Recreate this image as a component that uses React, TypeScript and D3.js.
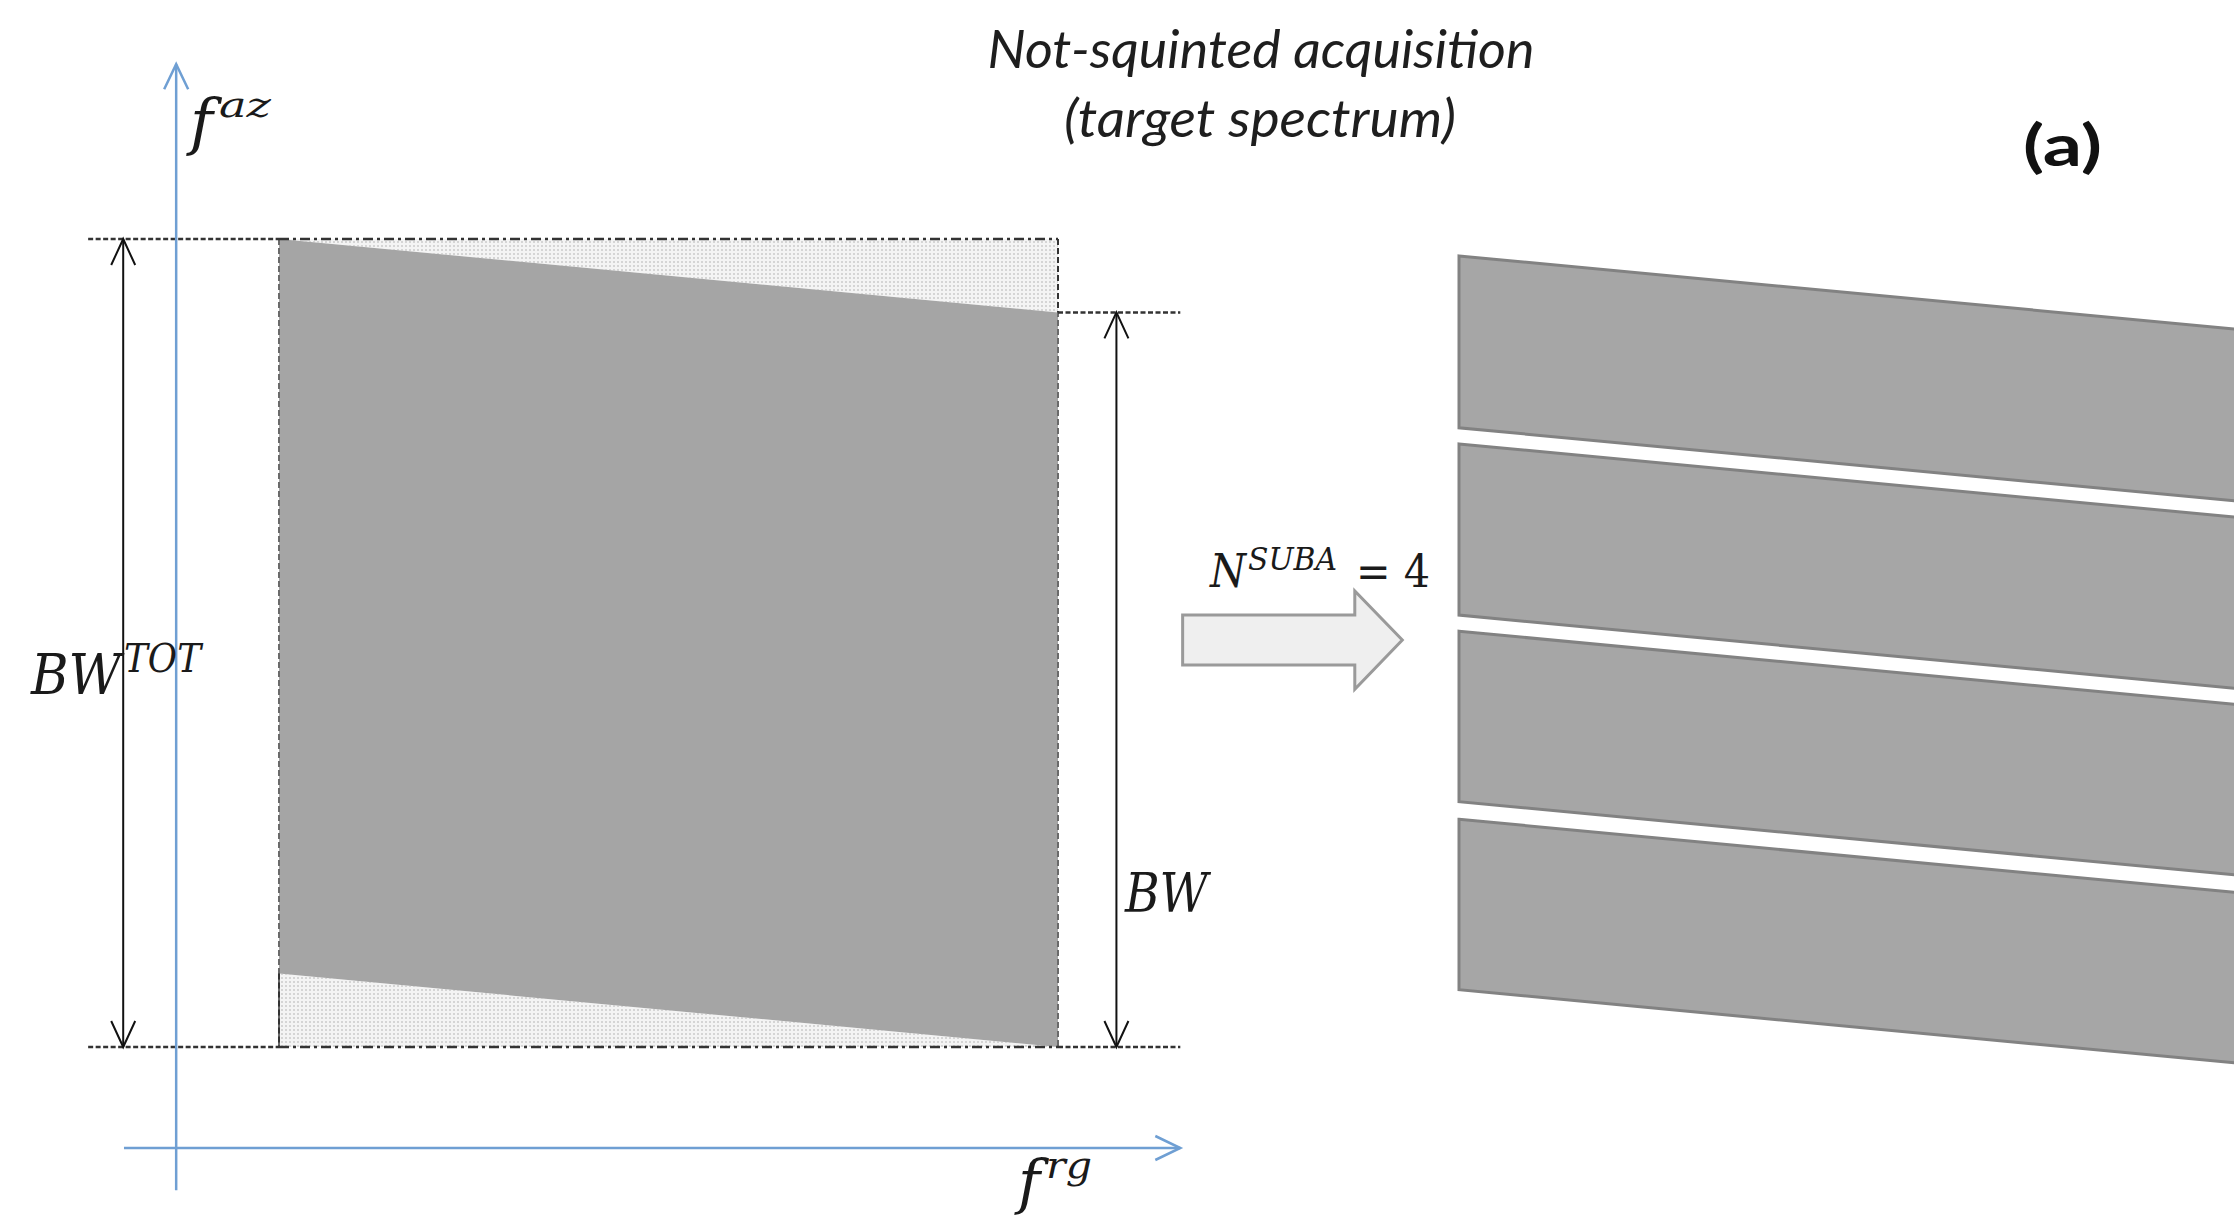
import React from 'react';
import * as d3 from 'd3';

const W = 2234;
const H = 1218;

// spectrum support in normalised (range, azimuth) frequency units
const spectrumFrg = [0, 1];
const spectrumTopFaz = [1.1, 1.0];
const spectrumBottomFaz = [0.1, 0.0];
const bwTotFaz = [0, 1.1];
const bwFaz = [0, 1.0];

// sub-apertures (N = 4), azimuth edges at the near-range side
const subaTop = [1.077, 0.821, 0.566, 0.31];
const subaBottom = [0.843, 0.588, 0.334, 0.078];
const squint = 0.1;

// axes and guides
const azAxisFrg = -0.132;
const azAxisFaz = [-0.195, 1.338];
const rgAxisFaz = -0.1375;
const rgAxisFrg = [-0.199, 1.157];
const guideFrg = [-0.245, 1.157];
const bwTotArrowFrg = -0.2;
const bwArrowFrg = 1.075;

// big hollow arrow: shaft start, head start, tip
const bigArrowFrg = [1.16, 1.381, 1.442];
const bigArrowFaz = 0.554;
const bigArrowHalf = [0.034, 0.067];

const x = d3.scaleLinear().domain([0, 1]).range([279, 1058]);
const y = d3.scaleLinear().domain([0, 1.1]).range([1047, 239]);
const xR = d3.scaleLinear().domain([0, 1]).range([1459, 2238]);

const line = d3.line<[number, number]>().x(d => x(d[0])).y(d => y(d[1]));
const lineR = d3.line<[number, number]>().x(d => xR(d[0])).y(d => y(d[1]));

// open "V" arrow head, (dx,dy) = unit direction of travel
function vHead(tx: number, ty: number, dx: number, dy: number, len: number, half: number) {
  const bx = tx - dx * len;
  const by = ty - dy * len;
  return `M${bx - dy * half},${by + dx * half}L${tx},${ty}L${bx + dy * half},${by - dx * half}`;
}

const MATH = '"DejaVu Serif", serif';
const SANS = 'Lato, "Open Sans", sans-serif';

export default function App() {
  const [f0, f1] = spectrumFrg;
  const spectrum = line([
    [f0, spectrumTopFaz[0]], [f1, spectrumTopFaz[1]],
    [f1, spectrumBottomFaz[1]], [f0, spectrumBottomFaz[0]],
  ]) + 'Z';
  const topTri = line([[f0, bwTotFaz[1]], [f1, bwTotFaz[1]], [f1, spectrumTopFaz[1]]]) + 'Z';
  const botTri = line([[f0, spectrumBottomFaz[0]], [f1, bwTotFaz[0]], [f0, bwTotFaz[0]]]) + 'Z';

  const ax = x(bigArrowFrg[0]), hx = x(bigArrowFrg[1]), tx = x(bigArrowFrg[2]);
  const ay = y(bigArrowFaz);
  const sh = y(0) - y(bigArrowHalf[0]);
  const hh = y(0) - y(bigArrowHalf[1]);
  const bigArrow = `M${ax},${ay - sh}L${hx},${ay - sh}L${hx},${ay - hh}L${tx},${ay}L${hx},${ay + hh}L${hx},${ay + sh}L${ax},${ay + sh}Z`;

  const dense = '5 2.5';
  const dashDot = '10 4 3 4';

  return (
    <svg width={W} height={H} style={{ position: 'absolute', left: 0, top: 0, display: 'block', background: '#fff' }}>
      <defs>
        <pattern id="dots" width="4" height="4" patternUnits="userSpaceOnUse">
          <rect width="4" height="4" fill="#f4f4f4" />
          <circle cx="2" cy="2" r="1" fill="#cbcbcb" />
        </pattern>
      </defs>

      {/* spectrum */}
      <path d={topTri} fill="url(#dots)" />
      <path d={botTri} fill="url(#dots)" />
      <path d={spectrum} fill="#a5a5a5" />
      <line x1={x(f0)} x2={x(f0)} y1={y(bwTotFaz[1])} y2={y(bwTotFaz[0])} stroke="#6a6a6a" strokeWidth={2} strokeDasharray="6 3" />
      <line x1={x(f1)} x2={x(f1)} y1={y(bwTotFaz[1])} y2={y(bwTotFaz[0])} stroke="#6a6a6a" strokeWidth={2} strokeDasharray="6 3" />
      <line x1={x(f0)} x2={x(f0)} y1={y(spectrumBottomFaz[0])} y2={y(0)} stroke="#333" strokeWidth={2} strokeDasharray="6 3" />
      <line x1={x(f1)} x2={x(f1)} y1={y(bwTotFaz[1])} y2={y(spectrumTopFaz[1])} stroke="#333" strokeWidth={2} strokeDasharray="6 3" />

      {/* horizontal guides */}
      <g stroke="#333" strokeWidth={2.5} fill="none">
        <line x1={x(guideFrg[0])} x2={x(f0)} y1={y(bwTotFaz[1])} y2={y(bwTotFaz[1])} strokeDasharray={dense} />
        <line x1={x(f0)} x2={x(f1)} y1={y(bwTotFaz[1])} y2={y(bwTotFaz[1])} strokeDasharray={dashDot} />
        <line x1={x(guideFrg[0])} x2={x(f0)} y1={y(0)} y2={y(0)} strokeDasharray={dense} />
        <line x1={x(f0)} x2={x(f1)} y1={y(0)} y2={y(0)} strokeDasharray={dashDot} />
        <line x1={x(f1)} x2={x(guideFrg[1])} y1={y(0)} y2={y(0)} strokeDasharray={dense} />
        <line x1={x(f1)} x2={x(guideFrg[1])} y1={y(bwFaz[1])} y2={y(bwFaz[1])} strokeDasharray={dense} />
      </g>

      {/* blue axes */}
      <g stroke="#6f9fd3" strokeWidth={2.5} fill="none">
        <line x1={x(azAxisFrg)} x2={x(azAxisFrg)} y1={y(azAxisFaz[0])} y2={y(azAxisFaz[1])} />
        <path d={vHead(x(azAxisFrg), y(azAxisFaz[1]), 0, -1, 25, 12)} />
        <line x1={x(rgAxisFrg[0])} x2={x(rgAxisFrg[1])} y1={y(rgAxisFaz)} y2={y(rgAxisFaz)} />
        <path d={vHead(x(rgAxisFrg[1]), y(rgAxisFaz), 1, 0, 25, 12)} />
      </g>

      {/* bandwidth arrows */}
      <g stroke="#111" strokeWidth={2} fill="none">
        <line x1={x(bwTotArrowFrg)} x2={x(bwTotArrowFrg)} y1={y(bwTotFaz[1])} y2={y(bwTotFaz[0])} />
        <path d={vHead(x(bwTotArrowFrg), y(bwTotFaz[1]), 0, -1, 26, 12)} />
        <path d={vHead(x(bwTotArrowFrg), y(bwTotFaz[0]), 0, 1, 26, 12)} />
        <line x1={x(bwArrowFrg)} x2={x(bwArrowFrg)} y1={y(bwFaz[1])} y2={y(bwFaz[0])} />
        <path d={vHead(x(bwArrowFrg), y(bwFaz[1]), 0, -1, 26, 12)} />
        <path d={vHead(x(bwArrowFrg), y(bwFaz[0]), 0, 1, 26, 12)} />
      </g>

      {/* sub-apertures */}
      {subaTop.map((t, i) => (
        <path
          key={i}
          d={lineR([[0, t], [1, t - squint], [1, subaBottom[i] - squint], [0, subaBottom[i]]]) + 'Z'}
          fill="#a6a6a6"
          stroke="#828282"
          strokeWidth={3}
        />
      ))}

      {/* split arrow */}
      <path d={bigArrow} fill="#efefef" stroke="#9a9a9a" strokeWidth={3} />

      {/* labels */}
      <g fill="#1a1a1a" fontFamily={MATH} fontStyle="italic">
        <text x={190} y={143} fontSize={62}>f</text>
        <text x={219} y={117} fontSize={36} textLength={52} lengthAdjust="spacingAndGlyphs">az</text>
        <text x={1018} y={1203} fontSize={60}>f</text>
        <text x={1046} y={1178} fontSize={38} textLength={46} lengthAdjust="spacingAndGlyphs">rg</text>
        <text x={31} y={694} fontSize={56} textLength={90} lengthAdjust="spacingAndGlyphs">BW</text>
        <text x={124} y={672} fontSize={40} textLength={77} lengthAdjust="spacingAndGlyphs">TOT</text>
        <text x={1125} y={912} fontSize={55} textLength={83} lengthAdjust="spacingAndGlyphs">BW</text>
        <text x={1210} y={587} fontSize={46} textLength={36} lengthAdjust="spacingAndGlyphs">N</text>
        <text x={1248} y={570} fontSize={31} textLength={89} lengthAdjust="spacingAndGlyphs">SUBA</text>
        <text x={1356} y={587} fontSize={44} fontStyle="normal" textLength={74} lengthAdjust="spacingAndGlyphs">= 4</text>
      </g>

      <g fill="#1e1e1e" fontFamily={SANS} fontStyle="italic" textAnchor="middle">
        <text x={1261} y={68} fontSize={52} textLength={547} lengthAdjust="spacingAndGlyphs">Not-squinted acquisition</text>
        <text x={1260} y={137} fontSize={52} textLength={392} lengthAdjust="spacingAndGlyphs">(target spectrum)</text>
      </g>
      <text x={2023} y={166} fontSize={58} fontWeight="bold" fontFamily={SANS} fill="#111" textLength={79} lengthAdjust="spacingAndGlyphs">(a)</text>
    </svg>
  );
}
